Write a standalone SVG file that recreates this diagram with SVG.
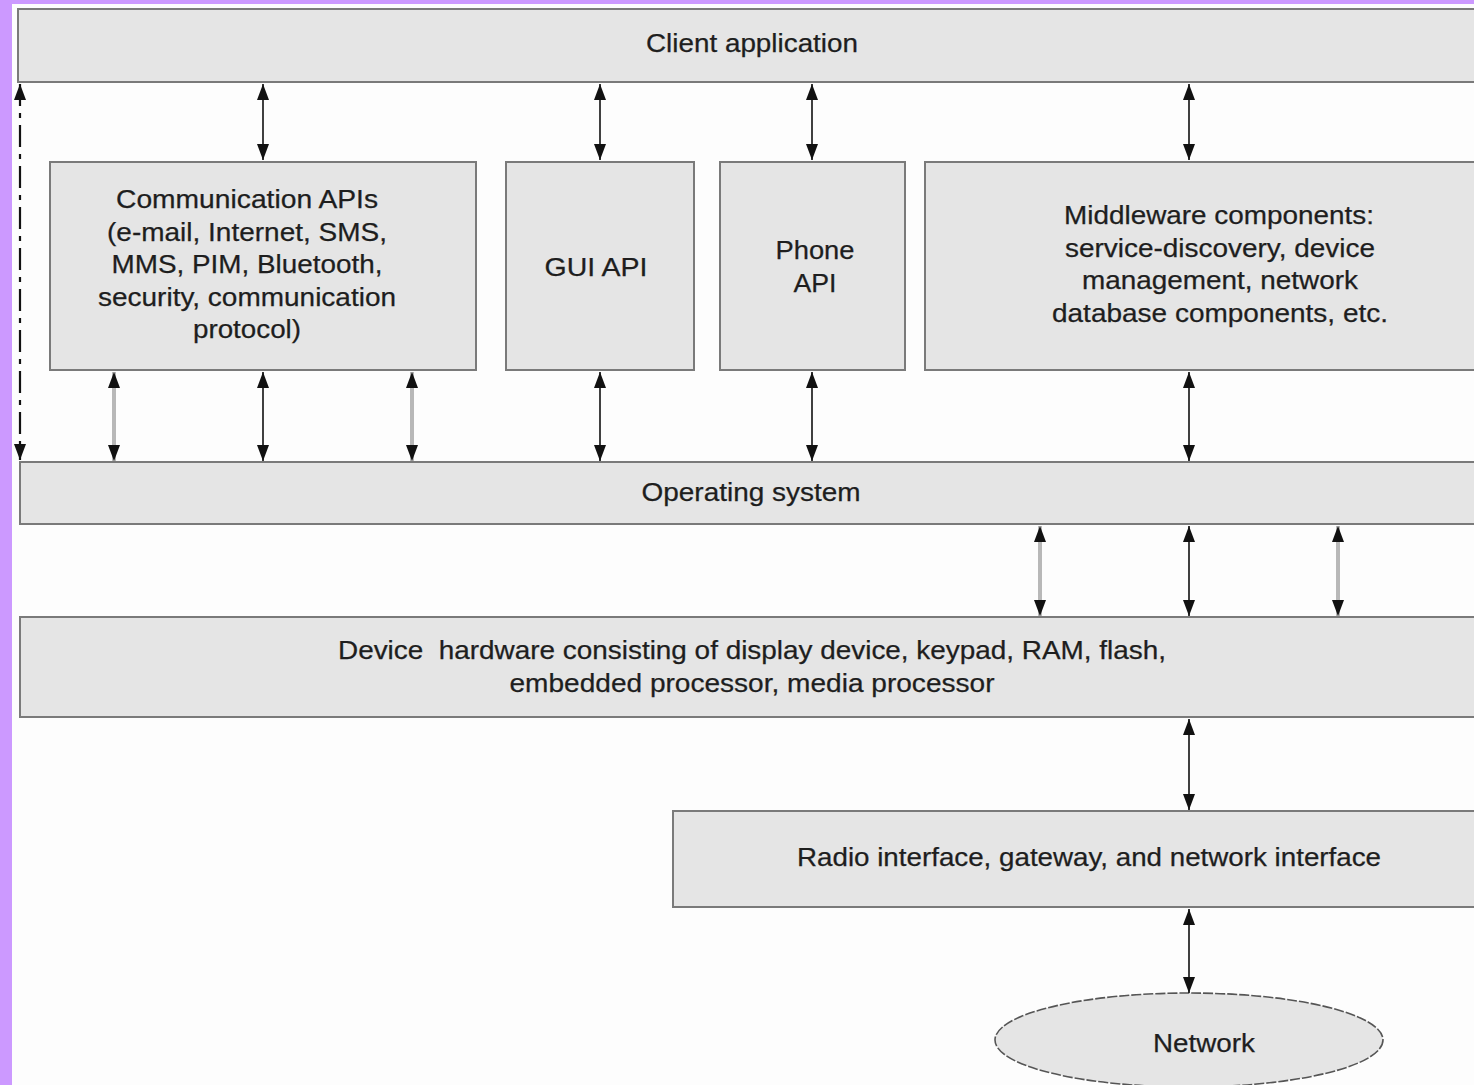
<svg xmlns="http://www.w3.org/2000/svg" width="1474" height="1085" viewBox="0 0 1474 1085">
<defs>
<style>
.box{fill:#e5e5e5;stroke:#7a7a7a;stroke-width:2}
.t{font-family:"Liberation Sans",Arial,sans-serif;font-size:26px;fill:#1e1e1e;text-anchor:middle;stroke:#1e1e1e;stroke-width:0.25}
.a{stroke:#111;stroke-width:1.6;fill:none;marker-start:url(#ah);marker-end:url(#ah)}
.g{stroke:#b8b8b8;stroke-width:4;fill:none;marker-start:url(#ah);marker-end:url(#ah)}
</style>
<marker id="ah" markerUnits="userSpaceOnUse" markerWidth="18" markerHeight="14" refX="16" refY="7" orient="auto-start-reverse" viewBox="0 0 18 14">
<path d="M0,1 L16,7 L0,13 Z" fill="#111"/>
</marker>
</defs>
<rect x="0" y="0" width="1474" height="1085" fill="#fdfdfd"/>
<rect x="0" y="0" width="12" height="1085" fill="#cc99ff"/>
<rect x="0" y="0" width="1474" height="4" fill="#cc99ff"/>

<g id="client">
<rect class="box" x="18" y="9" width="1470" height="73"/>
<text class="t" x="752" y="52" textLength="212" lengthAdjust="spacingAndGlyphs">Client application</text>
</g>
<g id="comm">
<rect class="box" x="50" y="162" width="426" height="208"/>
<text class="t" x="247" y="208" textLength="262" lengthAdjust="spacingAndGlyphs">Communication APIs</text>
<text class="t" x="247" y="241" textLength="280" lengthAdjust="spacingAndGlyphs">(e-mail, Internet, SMS,</text>
<text class="t" x="247" y="273" textLength="271" lengthAdjust="spacingAndGlyphs">MMS, PIM, Bluetooth,</text>
<text class="t" x="247" y="306" textLength="298" lengthAdjust="spacingAndGlyphs">security, communication</text>
<text class="t" x="247" y="338" textLength="108" lengthAdjust="spacingAndGlyphs">protocol)</text>
</g>
<g id="gui">
<rect class="box" x="506" y="162" width="188" height="208"/>
<text class="t" x="596" y="276" textLength="103" lengthAdjust="spacingAndGlyphs">GUI API</text>
</g>
<g id="phone">
<rect class="box" x="720" y="162" width="185" height="208"/>
<text class="t" x="815" y="259" textLength="79" lengthAdjust="spacingAndGlyphs">Phone</text>
<text class="t" x="815" y="292" textLength="43" lengthAdjust="spacingAndGlyphs">API</text>
</g>
<g id="middleware">
<rect class="box" x="925" y="162" width="560" height="208"/>
<text class="t" x="1219" y="224" textLength="310" lengthAdjust="spacingAndGlyphs">Middleware components:</text>
<text class="t" x="1220" y="257" textLength="310" lengthAdjust="spacingAndGlyphs">service-discovery, device</text>
<text class="t" x="1220" y="289" textLength="276" lengthAdjust="spacingAndGlyphs">management, network</text>
<text class="t" x="1220" y="322" textLength="336" lengthAdjust="spacingAndGlyphs">database components, etc.</text>
</g>
<g id="os">
<rect class="box" x="20" y="462" width="1465" height="62"/>
<text class="t" x="751" y="501" textLength="219" lengthAdjust="spacingAndGlyphs">Operating system</text>
</g>
<g id="hardware">
<rect class="box" x="20" y="617" width="1465" height="100"/>
<text class="t" x="752" y="659" textLength="828" lengthAdjust="spacingAndGlyphs" xml:space="preserve">Device  hardware consisting of display device, keypad, RAM, flash,</text>
<text class="t" x="752" y="692" textLength="485" lengthAdjust="spacingAndGlyphs">embedded processor, media processor</text>
</g>
<g id="radio">
<rect class="box" x="673" y="811" width="812" height="96"/>
<text class="t" x="1089" y="866" textLength="584" lengthAdjust="spacingAndGlyphs">Radio interface, gateway, and network interface</text>
</g>
<g id="network">
<ellipse cx="1189" cy="1040" rx="194" ry="47" fill="#e5e5e5" stroke="#555" stroke-width="1.6" stroke-dasharray="10,2"/>
<text class="t" x="1204" y="1052" textLength="102" lengthAdjust="spacingAndGlyphs">Network</text>
</g>

<g id="connectors">
<line x1="20" y1="84" x2="20" y2="460" stroke="#111" stroke-width="2.2" stroke-dasharray="22,7,5,7" marker-start="url(#ah)" marker-end="url(#ah)"/>
<line class="a" x1="263" y1="84" x2="263" y2="160"/>
<line class="a" x1="600" y1="84" x2="600" y2="160"/>
<line class="a" x1="812" y1="84" x2="812" y2="160"/>
<line class="a" x1="1189" y1="84" x2="1189" y2="160"/>
<line class="g" x1="114" y1="372" x2="114" y2="461"/>
<line class="a" x1="263" y1="372" x2="263" y2="461"/>
<line class="g" x1="412" y1="372" x2="412" y2="461"/>
<line class="a" x1="600" y1="372" x2="600" y2="461"/>
<line class="a" x1="812" y1="372" x2="812" y2="461"/>
<line class="a" x1="1189" y1="372" x2="1189" y2="461"/>
<line class="g" x1="1040" y1="526" x2="1040" y2="616"/>
<line class="a" x1="1189" y1="526" x2="1189" y2="616"/>
<line class="g" x1="1338" y1="526" x2="1338" y2="616"/>
<line class="a" x1="1189" y1="719" x2="1189" y2="810"/>
<line class="a" x1="1189" y1="909" x2="1189" y2="993"/>
</g>
</svg>
